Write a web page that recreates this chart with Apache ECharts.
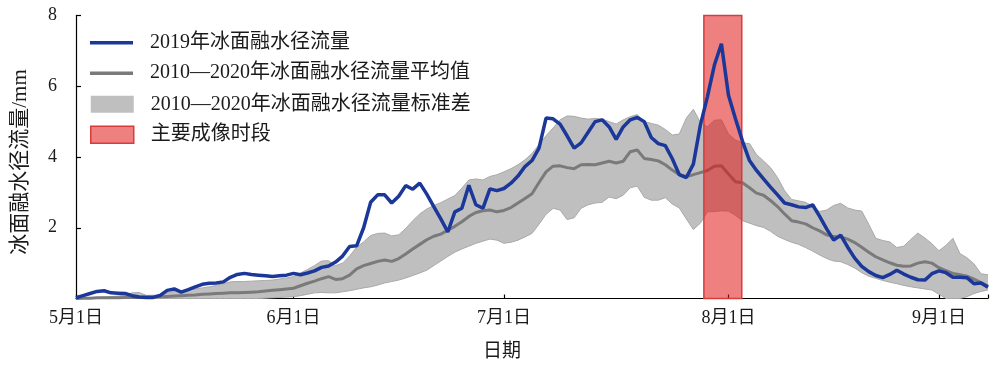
<!DOCTYPE html>
<html><head><meta charset="utf-8">
<script src="https://cdn.jsdelivr.net/npm/echarts@6/dist/echarts.min.js"></script>
<style>html,body{margin:0;padding:0;background:#fff}#c{width:1000px;height:375px}</style>
</head><body><div id="c"></div>
<script>
// x positions are days since 5月1日
const tickDays = [0, 31, 61, 93, 123];
const tickLabels = ['5月1日', '6月1日', '7月1日', '8月1日', '9月1日'];
const endDay = 130;
const imagingPeriod = [89.5, 94.9];

const flow2019 = [
0.02,0.08,0.14,0.20,0.22,0.16,0.15,0.14,0.08,0.04,
0.03,0.03,0.09,0.23,0.27,0.18,0.25,0.33,0.40,0.43,
0.44,0.47,0.60,0.68,0.71,0.68,0.66,0.64,0.62,0.64,
0.66,0.71,0.67,0.72,0.78,0.88,0.92,1.03,1.20,1.47,
1.49,2.00,2.72,2.93,2.93,2.70,2.89,3.19,3.09,3.26,
2.95,2.60,2.25,1.88,2.45,2.55,3.20,2.65,2.55,3.10,
3.05,3.11,3.26,3.46,3.73,3.90,4.25,5.10,5.08,4.93,
4.60,4.25,4.40,4.70,5.00,5.05,4.85,4.50,4.85,5.05,
5.12,5.00,4.55,4.38,4.32,3.95,3.50,3.42,3.80,4.90,
5.70,6.60,7.20,5.75,5.08,4.45,3.90,3.62,3.38,3.15,
2.93,2.70,2.65,2.59,2.57,2.65,2.32,1.97,1.65,1.79,
1.45,1.14,0.91,0.76,0.65,0.59,0.68,0.80,0.69,0.60,
0.53,0.52,0.70,0.78,0.73,0.60,0.60,0.59,0.42,0.44,
0.32];

const meanFlow = [
0.00,0.01,0.01,0.02,0.02,0.02,0.02,0.03,0.03,0.03,
0.04,0.04,0.05,0.06,0.07,0.08,0.09,0.10,0.12,0.13,
0.14,0.15,0.16,0.16,0.17,0.18,0.19,0.21,0.23,0.25,
0.27,0.29,0.36,0.43,0.49,0.56,0.62,0.54,0.56,0.66,
0.84,0.93,0.99,1.05,1.09,1.05,1.13,1.26,1.40,1.53,
1.66,1.76,1.82,1.93,2.04,2.17,2.32,2.43,2.48,2.50,
2.45,2.49,2.57,2.70,2.83,2.96,3.28,3.58,3.74,3.75,
3.70,3.67,3.78,3.79,3.78,3.83,3.88,3.83,3.88,4.15,
4.20,3.96,3.93,3.89,3.78,3.63,3.50,3.45,3.50,3.56,
3.62,3.74,3.75,3.52,3.30,3.27,3.13,2.98,2.92,2.77,
2.60,2.39,2.20,2.16,2.11,2.00,1.91,1.80,1.75,1.74,
1.68,1.58,1.45,1.31,1.18,1.09,1.01,0.94,0.91,0.92,
1.00,1.04,1.00,0.87,0.79,0.71,0.67,0.63,0.55,0.45,
0.35];

const upperFlow = [
0.00,0.01,0.02,0.03,0.04,0.05,0.07,0.09,0.16,0.17,
0.09,0.09,0.10,0.16,0.20,0.22,0.25,0.27,0.30,0.33,
0.37,0.42,0.47,0.48,0.48,0.49,0.50,0.51,0.52,0.55,
0.58,0.62,0.72,0.82,0.93,1.06,1.07,0.93,1.00,1.20,
1.45,1.60,1.78,1.84,1.85,1.77,1.80,1.98,2.20,2.39,
2.53,2.63,2.71,2.81,2.91,3.12,3.35,3.38,3.35,3.45,
3.50,3.58,3.67,3.78,3.92,4.10,4.35,4.60,4.82,5.05,
5.16,5.15,5.10,5.07,5.09,5.07,5.00,4.93,5.05,5.14,
5.20,5.00,4.95,4.90,4.78,4.62,4.65,5.10,5.35,4.98,
4.85,5.04,5.05,4.65,4.48,4.40,4.38,4.07,3.89,3.70,
3.42,3.05,2.80,2.76,2.72,2.60,2.46,2.50,2.63,2.69,
2.56,2.50,2.47,2.10,1.70,1.64,1.60,1.44,1.48,1.67,
1.85,1.71,1.55,1.35,1.50,1.70,1.27,1.15,0.98,0.70,
0.67];

const lowerFlow = [
0.00,0.00,0.00,0.00,0.00,0.00,0.00,0.00,0.00,0.00,
0.00,0.00,0.00,0.00,0.00,0.00,0.00,0.00,0.00,0.00,
0.00,0.00,0.00,0.00,0.00,0.00,0.00,0.01,0.02,0.03,
0.04,0.05,0.08,0.12,0.16,0.17,0.16,0.16,0.19,0.22,
0.26,0.30,0.33,0.38,0.44,0.48,0.52,0.58,0.65,0.72,
0.80,0.93,1.06,1.19,1.31,1.40,1.48,1.56,1.62,1.68,
1.65,1.56,1.59,1.65,1.74,1.84,2.10,2.38,2.55,2.50,
2.23,2.28,2.55,2.65,2.70,2.72,2.87,2.82,2.92,3.13,
3.18,2.86,2.78,2.78,2.85,2.67,2.56,2.25,1.95,2.13,
2.45,2.46,2.48,2.47,2.35,2.20,2.13,2.06,2.01,1.90,
1.76,1.67,1.59,1.53,1.44,1.34,1.23,1.13,1.06,1.04,
0.96,0.86,0.73,0.63,0.57,0.51,0.46,0.42,0.37,0.33,
0.30,0.27,0.24,0.12,0.00,0.00,0.00,0.05,0.14,0.20,
0.24];

const NAME_2019 = '2019年冰面融水径流量';
const NAME_MEAN = '2010—2020年冰面融水径流量平均值';
const NAME_SD = '2010—2020年冰面融水径流量标准差';
const NAME_IMG = '主要成像时段';

const FONT = "'Liberation Serif','Noto Sans CJK SC',serif";
const dayIndex = flow2019.map((_, i) => i);
const bandWidth = upperFlow.map((v, i) => +(v - lowerFlow[i]).toFixed(3));

const chart = echarts.init(document.getElementById('c'), null, {renderer: 'canvas'});
const legendText = {fontFamily: FONT, fontSize: 20, color: '#1a1a1a', lineHeight: 20, padding: [0, 0, 0, 12]};
chart.setOption({
  animation: false,
  backgroundColor: '#fff',
  textStyle: {fontFamily: FONT},
  grid: {left: 76, right: 12, top: 15.5, bottom: 76.5},
  legend: [{
    left: 90, top: 32.7, padding: 0, orient: 'vertical', icon: 'rect',
    itemWidth: 43, itemHeight: 3.5, itemGap: 10.5, selectedMode: false,
    textStyle: legendText,
    data: [
      {name: NAME_2019, itemStyle: {color: '#1a3799', borderWidth: 0}},
      {name: NAME_MEAN, itemStyle: {color: '#7a7a7a', borderWidth: 0}}
    ]
  }, {
    left: 90, top: 94.3, padding: 0, orient: 'vertical', icon: 'rect',
    itemWidth: 43, itemHeight: 17, itemGap: 10.5, selectedMode: false,
    textStyle: legendText,
    data: [
      {name: NAME_SD, itemStyle: {color: '#bfbfbf', borderWidth: 0}},
      {name: NAME_IMG, itemStyle: {color: 'rgba(224,24,24,0.55)', borderColor: '#d63c3c', borderWidth: 1.5}}
    ]
  }],
  xAxis: [{
    type: 'category', data: dayIndex, boundaryGap: false, show: false
  }, {
    type: 'value', min: 0, max: endDay, position: 'bottom',
    axisLine: {show: true, lineStyle: {color: '#000', width: 1.2}},
    axisTick: {show: true, inside: true, length: 4, customValues: tickDays.concat([endDay]), lineStyle: {color: '#000', width: 1.2}},
    axisLabel: {
      customValues: tickDays,
      formatter: v => { const k = tickDays.indexOf(v); return k >= 0 ? tickLabels[k] : ''; },
      fontFamily: FONT, fontSize: 18, color: '#1a1a1a', margin: 11
    },
    splitLine: {show: false},
    name: '日期', nameLocation: 'middle', nameGap: 44,
    nameTextStyle: {fontFamily: FONT, fontSize: 19, color: '#1a1a1a', padding: [0, 60, 0, 0]}
  }],
  yAxis: {
    type: 'value', min: 0, max: 8, interval: 2,
    axisLine: {show: true, lineStyle: {color: '#000', width: 1.2}},
    axisTick: {show: true, inside: true, length: 5, lineStyle: {color: '#000', width: 1.2}},
    axisLabel: {formatter: v => v === 0 ? '' : String(v), fontFamily: FONT, fontSize: 18, color: '#1a1a1a', margin: 19},
    splitLine: {show: false},
    name: '冰面融水径流量/mm', nameLocation: 'middle', nameGap: 45,
    nameTextStyle: {fontFamily: FONT, fontSize: 21, color: '#1a1a1a', padding: [0, 10, 0, 0]}
  },
  series: [
    {
      name: 'lower', type: 'line', xAxisIndex: 0, data: lowerFlow, stack: 'sd', symbol: 'none', silent: true, z: 1,
      lineStyle: {color: '#a9a9a9', width: 1}, itemStyle: {color: '#a9a9a9'}
    },
    {
      name: NAME_SD, type: 'line', xAxisIndex: 0, data: bandWidth, stack: 'sd', symbol: 'none', silent: true, z: 1,
      lineStyle: {color: '#a9a9a9', width: 1}, itemStyle: {color: '#bfbfbf'},
      areaStyle: {color: '#bfbfbf', opacity: 1}
    },
    {
      name: NAME_MEAN, type: 'line', xAxisIndex: 0, data: meanFlow, symbol: 'none', silent: true, z: 2,
      lineStyle: {color: '#7a7a7a', width: 3}, itemStyle: {color: '#7a7a7a'}
    },
    {
      name: NAME_IMG, type: 'line', xAxisIndex: 1, data: [], symbol: 'none', z: 3,
      itemStyle: {color: 'rgba(224,24,24,0.55)'},
      markArea: {
        silent: true, z: 3,
        itemStyle: {color: 'rgba(224,24,24,0.55)', borderColor: '#d63c3c', borderWidth: 1.5},
        data: [[{xAxis: imagingPeriod[0], yAxis: 8}, {xAxis: imagingPeriod[1], yAxis: 0}]]
      }
    },
    {
      name: NAME_2019, type: 'line', xAxisIndex: 0, data: flow2019, symbol: 'none', silent: true, z: 4,
      lineStyle: {color: '#1a3799', width: 3.5}, itemStyle: {color: '#1a3799'}
    }
  ]
});
</script></body></html>
